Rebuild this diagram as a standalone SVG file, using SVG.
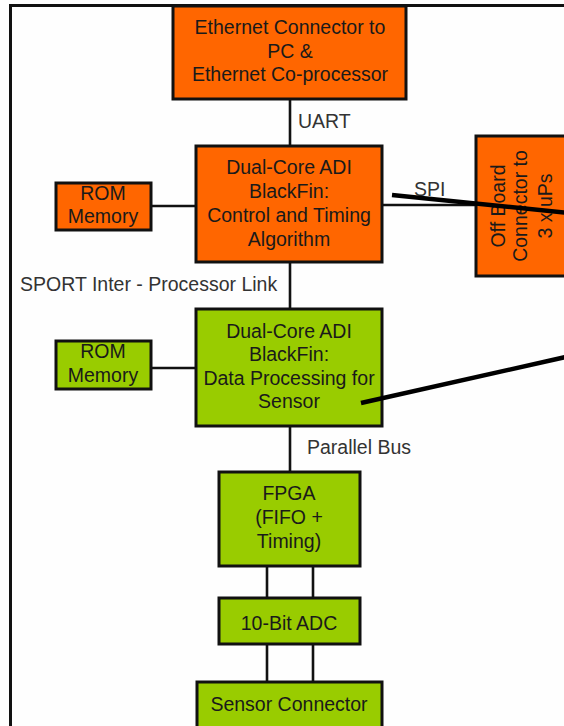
<svg xmlns="http://www.w3.org/2000/svg" width="564" height="726" viewBox="0 0 564 726">
<style>
text{font-family:"Liberation Sans",Arial,sans-serif;font-size:19.5px;fill:#1a1a1a;text-anchor:middle}
.lbl{text-anchor:start;fill:#333}
.or{fill:#FF6600;stroke:#111;stroke-width:3}
.gr{fill:#99CC00;stroke:#111;stroke-width:3}
.ln{stroke:#111;stroke-width:2.6;fill:none}
.thick{stroke:#000;stroke-width:4.5;fill:none}
</style>
<rect x="0" y="0" width="564" height="726" fill="#fefefe"/>
<rect id="frame" x="10.5" y="5.5" width="600" height="760" fill="none" stroke="#111" stroke-width="3"/>
<g id="connectors">
<line class="ln" x1="290" y1="99" x2="290" y2="146"/>
<line class="ln" x1="290" y1="262" x2="290" y2="309"/>
<line class="ln" x1="151" y1="206" x2="196" y2="206"/>
<line class="ln" x1="383" y1="205" x2="476" y2="205"/>
<line class="ln" x1="151" y1="368" x2="196" y2="368"/>
<line class="ln" x1="290" y1="426" x2="290" y2="472"/>
<line class="ln" x1="267" y1="566" x2="267" y2="598"/>
<line class="ln" x1="313" y1="566" x2="313" y2="598"/>
<line class="ln" x1="267" y1="644" x2="267" y2="682"/>
<line class="ln" x1="313" y1="644" x2="313" y2="682"/>
<text class="lbl" x="298" y="128">UART</text>
<text class="lbl" x="414" y="196">SPI</text>
<text class="lbl" x="20" y="291">SPORT Inter - Processor Link</text>
<text class="lbl" x="307" y="454">Parallel Bus</text>
</g>
<g id="ethernet">
<rect class="or" x="173" y="6" width="233" height="93"/>
<text x="290" y="34">Ethernet Connector to</text>
<text x="290" y="58">PC &amp;</text>
<text x="290" y="81">Ethernet Co-processor</text>
</g>
<g id="control">
<rect class="or" x="196" y="146" width="186" height="116"/>
<text x="289" y="174">Dual-Core ADI</text>
<text x="289" y="198">BlackFin:</text>
<text x="289" y="222">Control and Timing</text>
<text x="289" y="246">Algorithm</text>
</g>
<g id="rom1">
<rect class="or" x="56" y="183" width="95" height="47"/>
<text x="103" y="200">ROM</text>
<text x="103" y="223">Memory</text>
</g>
<g id="offboard">
<rect class="or" x="476" y="136" width="94" height="140"/>
<text transform="translate(505,206) rotate(-90)">Off Board</text>
<text transform="translate(527,206) rotate(-90)">Connector to</text>
<text transform="translate(552,206) rotate(-90)">3 x uPs</text>
</g>
<g id="dataproc">
<rect class="gr" x="196" y="309" width="186" height="117"/>
<text x="289" y="338">Dual-Core ADI</text>
<text x="289" y="361">BlackFin:</text>
<text x="289" y="385">Data Processing for</text>
<text x="289" y="408">Sensor</text>
</g>
<g id="rom2">
<rect class="gr" x="56" y="341" width="95" height="48"/>
<text x="103" y="358">ROM</text>
<text x="103" y="382">Memory</text>
</g>
<g id="fpga">
<rect class="gr" x="219" y="472" width="141" height="94"/>
<text x="289" y="500">FPGA</text>
<text x="289" y="524">(FIFO +</text>
<text x="289" y="548">Timing)</text>
</g>
<g id="adc">
<rect class="gr" x="219" y="598" width="141" height="46"/>
<text x="289" y="630">10-Bit ADC</text>
</g>
<g id="sensor">
<rect class="gr" x="197" y="682" width="185" height="60"/>
<text x="289" y="711">Sensor Connector</text>
</g>
<g id="overlay">
<line class="thick" x1="392" y1="195" x2="570" y2="213"/>
<line class="thick" x1="361" y1="403" x2="570" y2="356"/>
</g>
</svg>
